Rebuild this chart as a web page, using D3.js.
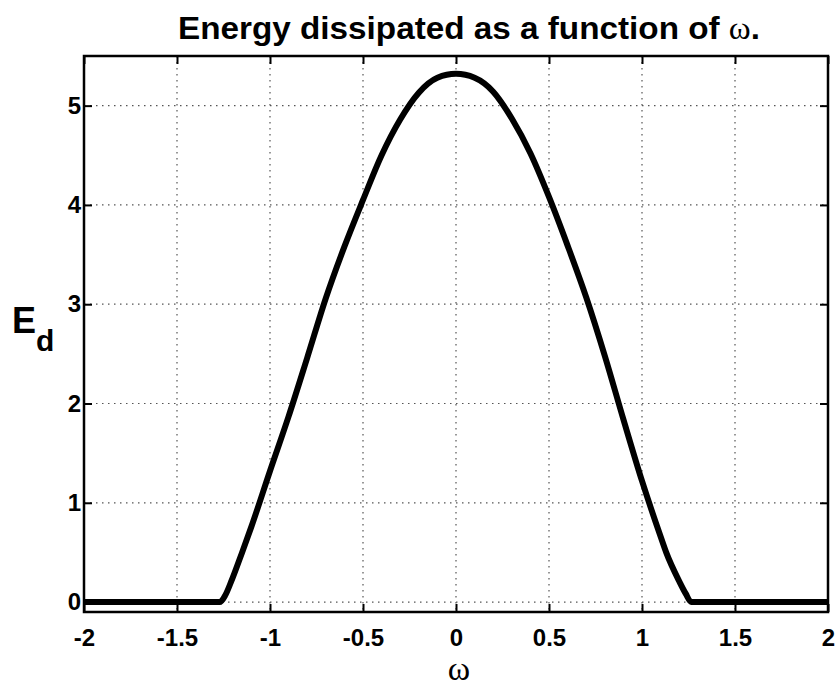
<!DOCTYPE html>
<html>
<head>
<meta charset="utf-8">
<script src="https://cdn.jsdelivr.net/npm/d3@7"></script>
<style>
  body { margin: 0; background: #fff; }
  svg text { font-family: "Liberation Sans", Arial, Helvetica, sans-serif; font-weight: bold; }
</style>
</head>
<body>
<div id="graph"></div>
<script>
const omega = [-2.0, -1.5, -1.27, -1.24, -1.21, -1.15, -1.1, -1.0, -0.9, -0.8, -0.7, -0.6, -0.5, -0.4, -0.3, -0.2, -0.1,
    0, 0.1, 0.2, 0.3, 0.4, 0.5, 0.6, 0.7, 0.8, 0.9, 1.0, 1.1, 1.13, 1.2, 1.235, 1.265, 1.5, 2.0];
const energy = [0, 0, 0, 0.07, 0.2, 0.5, 0.76, 1.32, 1.87, 2.46, 3.06, 3.58, 4.05, 4.50, 4.86, 5.13, 5.28,
    5.32, 5.28, 5.14, 4.87, 4.52, 4.08, 3.59, 3.07, 2.48, 1.84, 1.22, 0.66, 0.5, 0.21, 0.085, 0, 0, 0];

const xTicks = [-2, -1.5, -1, -0.5, 0, 0.5, 1, 1.5, 2];
const xTickLabels = ['-2', '-1.5', '-1', '-0.5', '0', '0.5', '1', '1.5', '2'];
const yTicks = [0, 1, 2, 3, 4, 5];
const yTickLabels = ['0', '1', '2', '3', '4', '5'];
const xDomain = [-2, 2];
const yDomain = [-0.1, 5.5];

function render(){
    const W = 836, H = 688;
    const left = 84, right = 828, top = 56, bottom = 612;

    const svg = d3.select('#graph')
        .append('svg')
        .attr('width', W)
        .attr('height', H);

    const x = d3.scaleLinear().domain(xDomain).range([left, right]);
    const y = d3.scaleLinear().domain(yDomain).range([bottom, top]);

    /* grid ------------*/
    const grid = svg.append('g')
        .attr('stroke', '#555')
        .attr('stroke-width', 1.2)
        .attr('stroke-dasharray', '1.5,4.5');
    grid.selectAll('.vx')
        .data(xTicks.filter(d => d > xDomain[0] && d < xDomain[1]))
        .enter().append('line')
        .attr('x1', d => x(d)).attr('x2', d => x(d))
        .attr('y1', top).attr('y2', bottom);
    grid.selectAll('.hy')
        .data(yTicks)
        .enter().append('line')
        .attr('x1', left).attr('x2', right)
        .attr('y1', d => y(d)).attr('y2', d => y(d));

    /* axes, ticks pointing inward ------------*/
    const fmtX = d => xTickLabels[xTicks.indexOf(d)];
    const fmtY = d => yTickLabels[yTicks.indexOf(d)];
    const axes = [
        svg.append('g').attr('transform', `translate(0,${bottom})`)
            .call(d3.axisBottom(x).tickValues(xTicks).tickFormat(fmtX).tickSize(-8).tickPadding(17)),
        svg.append('g').attr('transform', `translate(0,${top})`)
            .call(d3.axisTop(x).tickValues(xTicks).tickFormat('').tickSize(-8)),
        svg.append('g').attr('transform', `translate(${left},0)`)
            .call(d3.axisLeft(y).tickValues(yTicks).tickFormat(fmtY).tickSize(-8).tickPadding(3)),
        svg.append('g').attr('transform', `translate(${right},0)`)
            .call(d3.axisRight(y).tickValues(yTicks).tickFormat('').tickSize(-8))
    ];
    axes.forEach(a => {
        a.select('.domain').remove();
        a.selectAll('line').attr('stroke', '#000').attr('stroke-width', 2);
        a.selectAll('text')
            .attr('fill', '#000')
            .style('font-size', '24px')
            .style('font-family', '"Liberation Sans", Arial, sans-serif')
            .style('font-weight', 'bold');
    });

    svg.append('rect')
        .attr('x', left).attr('y', top)
        .attr('width', right - left).attr('height', bottom - top)
        .attr('fill', 'none')
        .attr('stroke', '#000')
        .attr('stroke-width', 2.5);

    /* curve ------------*/
    const line = d3.line()
        .x(d => x(d[0]))
        .y(d => y(d[1]))
        .curve(d3.curveMonotoneX);

    svg.append('path')
        .datum(omega.map((w, i) => [w, energy[i]]))
        .attr('fill', 'none')
        .attr('stroke', '#000')
        .attr('stroke-width', 6)
        .attr('stroke-linejoin', 'round')
        .attr('d', line);

    /* labels ------------*/
    const title = svg.append('text')
        .attr('x', 469)
        .attr('y', 39)
        .attr('text-anchor', 'middle')
        .attr('textLength', 582)
        .attr('lengthAdjust', 'spacingAndGlyphs')
        .style('font-size', '31px');
    title.append('tspan').text('Energy dissipated as a function of ');
    title.append('tspan')
        .style('font-family', '"Liberation Serif", "DejaVu Serif", serif')
        .style('font-weight', 'normal')
        .text('ω');
    title.append('tspan').text('.');

    svg.append('text')
        .attr('x', x(0) + 3)
        .attr('y', 680)
        .attr('text-anchor', 'middle')
        .style('font-family', '"Liberation Serif", "DejaVu Serif", serif')
        .style('font-weight', 'normal')
        .style('font-size', '34px')
        .text('ω');

    const ylab = svg.append('text')
        .attr('x', 12)
        .attr('y', 333)
        .style('font-size', '36px');
    ylab.append('tspan').text('E');
    ylab.append('tspan')
        .attr('dy', 18)
        .style('font-size', '30px')
        .text('d');
}

render()
</script>
</body>
</html>
